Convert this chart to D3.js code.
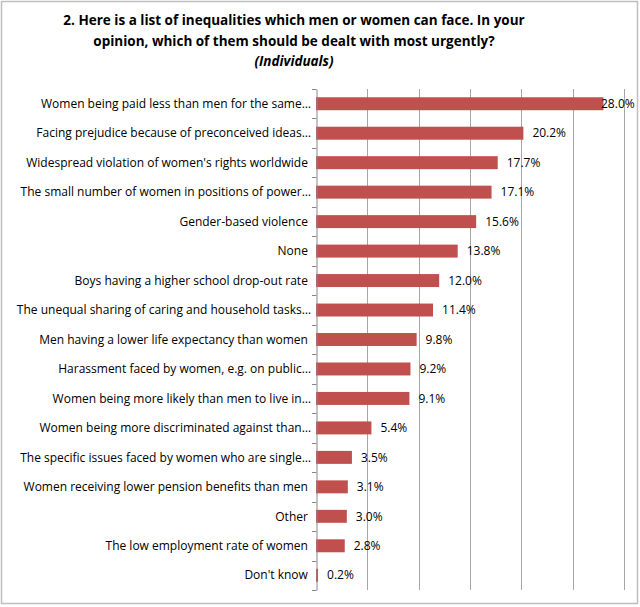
<!DOCTYPE html>
<html><head><meta charset="utf-8">
<script src="https://cdn.jsdelivr.net/npm/d3@7/dist/d3.min.js"></script>
<style>body{margin:0;background:#fff}svg{display:block}</style>
</head><body>
<script>
const categories = [
  "Women being paid less than men for the same\u2026",
  "Facing prejudice because of preconceived ideas\u2026",
  "Widespread violation of women's rights worldwide ",
  "The small number of women in positions of power\u2026",
  "Gender-based violence ",
  "None ",
  "Boys having a higher school drop-out rate ",
  "The unequal sharing of caring and household tasks\u2026",
  "Men having a lower life expectancy than women ",
  "Harassment faced by women, e.g. on public\u2026",
  "Women being more likely than men to live in\u2026",
  "Women being more discriminated against than\u2026",
  "The specific issues faced by women who are single\u2026",
  "Women receiving lower pension benefits than men ",
  "Other ",
  "The low employment rate of women ",
  "Don't know "
];
const values = [28.0, 20.2, 17.7, 17.1, 15.6, 13.8, 12.0, 11.4, 9.8, 9.2, 9.1, 5.4, 3.5, 3.1, 3.0, 2.8, 0.2];
const xTicks = [0, 5, 10, 15, 20, 25, 30];
const titleLines = ["2. Here is a list of inequalities which men or women can face. In your",
                    "opinion, which of them should be dealt with most urgently?"];
const subtitle = "(Individuals)";

const W = 640, H = 607;
const svg = d3.select("body").append("svg").attr("width", W).attr("height", H);
svg.append("rect").attr("x", 1.5).attr("y", 1.5).attr("width", 636).attr("height", 602)
  .attr("fill", "#fff").attr("stroke", "#bfbfbf").attr("stroke-width", 1.5);

const m = {left: 316, right: 16, top: 89, bottom: 17};
const x = d3.scaleLinear().domain([0, 30]).range([m.left, W - m.right]);
const y = d3.scaleBand().domain(categories).range([m.top, H - m.bottom]).paddingInner(0.56).paddingOuter(0.28);
const yb = d3.scaleBand().domain(categories).range([m.top, H - m.bottom]);

const font = "'Open Sans', sans-serif";

// gridlines
svg.append("g").selectAll("line").data(xTicks.slice(1)).join("line")
  .attr("x1", d => Math.round(x(d)) + 0.5).attr("x2", d => Math.round(x(d)) + 0.5)
  .attr("y1", m.top).attr("y2", H - m.bottom)
  .attr("stroke", "#a6a6a6").attr("stroke-width", 1);

// bars
svg.append("g").selectAll("rect").data(values).join("rect")
  .attr("x", x(0)).attr("y", (d, i) => y(categories[i]))
  .attr("width", d => x(d) - x(0)).attr("height", y.bandwidth())
  .attr("fill", "#c0504d");

// axis
const axis = d3.axisLeft(yb).tickSize(0).tickFormat("");
const ag = svg.append("g").attr("transform", `translate(${m.left + 0.5},0)`).call(axis);
ag.select(".domain").attr("stroke", "#868686");
// boundary ticks
const bounds = categories.map(c => yb(c)).concat([H - m.bottom]);
svg.append("g").selectAll("line").data(bounds).join("line")
  .attr("x1", m.left - 4).attr("x2", m.left + 0.5)
  .attr("y1", d => Math.round(d) + 0.5).attr("y2", d => Math.round(d) + 0.5)
  .attr("stroke", "#868686");

// category labels
svg.append("g").selectAll("text").data(categories).join("text")
  .attr("x", 311).attr("y", d => yb(d) + yb.bandwidth() / 2)
  .attr("dy", "0.35em").attr("text-anchor", "end")
  .style("white-space", "pre")
  .attr("font-family", font).attr("font-size", 12).attr("fill", "#000")
  .text(d => d);

// value labels
svg.append("g").selectAll("text").data(values).join("text")
  .attr("x", d => Math.min(x(d) + 9, 601))
  .attr("y", (d, i) => yb(categories[i]) + yb.bandwidth() / 2)
  .attr("dy", "0.35em")
  .attr("font-family", font).attr("font-size", 12).attr("fill", "#000")
  .text(d => d.toFixed(1) + "%");

// title
const tg = svg.append("g").attr("font-family", font).attr("font-weight", "bold")
  .attr("font-size", 13.5).attr("text-anchor", "middle");
titleLines.forEach((t, i) => tg.append("text").attr("x", 294).attr("y", 25 + i * 21).text(t));
tg.append("text").attr("x", 294).attr("y", 66).attr("font-style", "italic").text(subtitle);
</script>
</body></html>
